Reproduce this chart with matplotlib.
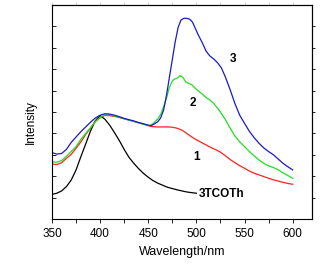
import matplotlib
matplotlib.use("Agg")
import matplotlib.pyplot as plt

plt.rcParams['font.family'] = ['Liberation Sans', 'DejaVu Sans']

# 3TCOTh (black)
wl_0 = [350, 355, 360, 365, 370, 375, 380, 385, 390, 395, 400, 405, 410, 415, 420, 425, 430, 435,
        440, 445, 450, 455, 460, 470, 480, 490, 500]
int_0 = [11.5, 12.0, 13.1, 15.1, 18.2, 22.9, 29.1, 35.0, 41.1, 45.9, 48.3, 46.6, 43.8, 40.3, 36.6,
         32.5, 28.8, 26.0, 23.5, 21.3, 19.5, 17.9, 16.7, 14.8, 13.6, 12.6, 12.0]

# curve 1 (red)
wl_1 = [350, 355, 360, 365, 370, 375, 380, 385, 390, 395, 400, 405, 410, 415, 420, 425, 430, 435,
        440, 445, 450, 455, 460, 465, 470, 475, 480, 485, 490, 495, 500, 505, 510, 515, 520, 525,
        530, 535, 540, 545, 550, 555, 560, 565, 570, 575, 580, 585, 590, 595, 600]
int_1 = [25.7, 25.4, 26.3, 28.3, 30.2, 33.0, 36.0, 39.5, 42.5, 45.5, 47.3, 48.4, 48.3, 47.9, 47.4,
         46.8, 46.2, 45.6, 44.9, 44.3, 43.6, 43.1, 43.0, 43.0, 43.0, 42.9, 42.4, 41.5, 40.0, 38.4,
         37.0, 35.8, 34.6, 33.4, 32.4, 31.2, 29.6, 27.8, 26.3, 24.9, 23.7, 22.4, 21.4, 20.6, 19.8,
         19.0, 18.3, 17.7, 17.1, 16.6, 16.2]

# curve 2 (green)
wl_2 = [350, 355, 360, 365, 370, 375, 380, 385, 390, 395, 400, 405, 410, 415, 420, 425, 430, 435,
        440, 445, 450, 453, 456, 460, 463, 466, 469, 472, 475, 477, 480, 483, 486, 489, 492, 495,
        500, 505, 510, 514, 518, 522, 526, 530, 535, 540, 545, 550, 555, 560, 565, 570, 575, 580,
        585, 590, 595, 600]
int_2 = [26.8, 26.5, 27.3, 29.3, 31.5, 33.8, 37.2, 40.0, 42.6, 45.5, 47.5, 48.7, 48.6, 48.1, 47.5,
         46.8, 46.2, 45.6, 44.9, 44.3, 43.7, 43.9, 45.0, 46.8, 49.0, 52.5, 56.5, 61.5, 64.5, 65.3,
         65.8, 67.0, 66.2, 64.0, 63.4, 62.8, 60.6, 58.8, 56.8, 55.6, 54.0, 51.8, 49.3, 46.5, 42.5,
         38.8, 36.0, 33.8, 31.5, 29.5, 27.6, 26.0, 24.8, 24.0, 23.0, 21.5, 20.3, 19.0]

# curve 3 (blue)
wl_3 = [350, 355, 360, 365, 370, 375, 380, 385, 390, 395, 400, 405, 410, 415, 420, 425, 430, 435,
        440, 445, 450, 453, 456, 460, 463, 466, 469, 472, 475, 478, 481, 484, 487, 490, 493, 496,
        499, 502, 506, 510, 514, 518, 522, 526, 530, 535, 540, 545, 550, 555, 560, 565, 570, 575,
        580, 585, 590, 595, 600]
int_3 = [31.0, 30.3, 30.6, 32.5, 35.8, 38.3, 40.8, 43.0, 45.2, 47.2, 48.5, 49.2, 49.0, 48.5, 47.8,
         47.0, 46.4, 45.8, 45.1, 44.5, 43.8, 43.6, 44.3, 45.5, 47.3, 51.0, 57.9, 66.3, 74.5, 82.8,
         89.5, 93.0, 93.8, 93.8, 93.4, 92.0, 89.0, 86.0, 82.5, 78.5, 76.2, 74.8, 73.0, 70.6, 66.5,
         60.5, 54.0, 48.5, 44.7, 41.0, 38.0, 35.4, 33.2, 31.5, 30.0, 28.0, 26.0, 24.4, 22.9]

labels = ['3', '2', '1', '3TCOTh']
label_x = [538, 496, 500, 503]
label_y = [74.6, 54.0, 29.1, 11.7]

fig = plt.figure(figsize=(3.29, 2.66), dpi=100)
ax = fig.add_axes([0.158, 0.177, 0.79, 0.804])

ax.plot(wl_0, int_0, color='black', lw=0.9)
ax.plot(wl_1, int_1, color='#ff2020', lw=0.9)
ax.plot(wl_2, int_2, color='#22dd22', lw=0.9)
ax.plot(wl_3, int_3, color='#1a1acc', lw=0.9)

for t, x, y in zip(labels, label_x, label_y):
    ax.text(x, y, t, fontsize=8.5, fontweight='bold', ha='left' if t == '3TCOTh' else 'center', va='center')

ax.set_xlim(350, 620)
ax.set_ylim(0, 100)
ax.set_xticks([350, 400, 450, 500, 550, 600])
ax.set_xticks([375, 425, 475, 525, 575], minor=True)
ax.set_yticks(range(10, 100, 10))
ax.set_yticklabels([])
ax.tick_params(axis='x', direction='out', which='both', labelsize=8.5, length=3, width=0.6)
ax.tick_params(axis='y', direction='in', length=3, width=0.6)

top = ax.secondary_xaxis('top')
top.set_xticks([350, 375, 400, 425, 450, 475, 500, 525, 550, 575, 600])
top.set_xticklabels([])
top.tick_params(direction='out', length=2, width=0.4, colors='#999999')
right = ax.secondary_yaxis('right')
right.set_yticks(range(10, 100, 10))
right.set_yticklabels([])
right.tick_params(direction='out', length=2, width=0.6)

for s in ax.spines.values():
    s.set_linewidth(0.8)
top.spines['top'].set_linewidth(0.8)
right.spines['right'].set_linewidth(0.8)

ax.set_xlabel('Wavelength/nm', fontsize=9, labelpad=4)
ax.set_ylabel('Intensity', fontsize=8.5)
ax.yaxis.set_label_coords(-0.058, 0.453)

fig.savefig('out.png', dpi=100)
